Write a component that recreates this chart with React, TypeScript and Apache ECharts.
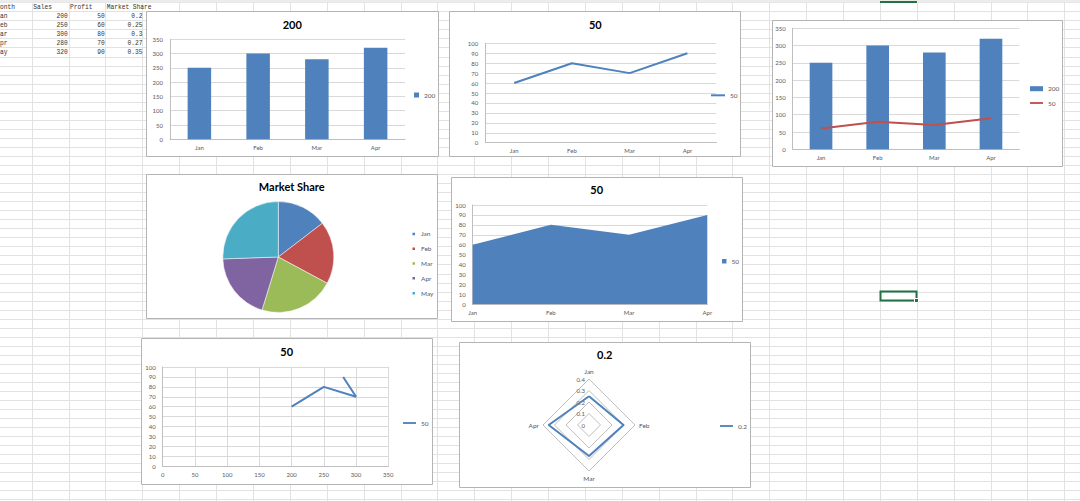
import React, { useEffect, useRef } from 'react';
import * as echarts from 'echarts';

// ---- sheet data ----
const headers = ['Month', 'Sales', 'Profit', 'Market Share'];
const months = ['Jan', 'Feb', 'Mar', 'Apr', 'May'];
const sales = [200, 250, 300, 280, 320];
const profit = [50, 60, 80, 70, 90];
const marketShare = [0.2, 0.25, 0.3, 0.27, 0.35];

// charts use the first data row as series name, the rest as values
const chartCats = months.slice(0, 4);
const barValues = sales.slice(1);
const lineValues = profit.slice(1);
const scatterX = sales.slice(0, 4);
const radarValues = marketShare.slice(1);
const radarOrder = [0, 3, 2, 1];

const salesAxis = { min: 0, max: 350, interval: 50 };
const profitAxis = { min: 0, max: 100, interval: 10 };
const shareAxisMax = 0.4;

const BLUE = '#4F81BD';
const RED = '#C0504D';
const pieColors = ['#4F81BD', '#C0504D', '#9BBB59', '#8064A2', '#4BACC6'];
const FONT = 'Lato, "Open Sans", sans-serif';
const MONO = '"Liberation Mono", "DejaVu Sans Mono", monospace';
const LINE_ICON = 'path://M0,0H14V2H0Z';

const tick = { fontSize: 6, color: '#595959', fontFamily: FONT };

function catAxis(gridIndex: number, extra: any = {}) {
  return {
    type: 'category', gridIndex, data: chartCats,
    axisLine: { show: true, lineStyle: { color: '#bfbfbf' } },
    axisTick: { show: false },
    axisLabel: { ...tick, margin: 5 },
    ...extra,
  };
}
function valAxis(gridIndex: number, r: any, extra: any = {}) {
  return {
    type: 'value', gridIndex, min: r.min, max: r.max, interval: r.interval,
    axisLine: { show: true, lineStyle: { color: '#bfbfbf' } },
    axisTick: { show: false },
    splitLine: { show: true, lineStyle: { color: '#d9d9d9' } },
    axisLabel: { ...tick, margin: 7 },
    ...extra,
  };
}

function title(text: string, cx: number, cy: number) {
  return {
    text, left: cx, top: cy - 6, textAlign: 'center', padding: 0,
    textStyle: { fontSize: 11, fontWeight: 'bold', color: '#000', fontFamily: FONT },
  };
}

const legendLabels: Record<string, string> = {
  s1: String(sales[0]), s2: String(profit[0]), s3: String(sales[0]), s4: String(profit[0]),
  s6: String(profit[0]), s7: String(profit[0]), s8: String(marketShare[0]),
};

function legend(data: any[], left: number, top: number, w: number, h: number, gap = 8) {
  return {
    data, left, top, orient: 'vertical', itemWidth: w, itemHeight: h, itemGap: gap,
    padding: 0, selectedMode: false,
    formatter: (n: string) => legendLabels[n] ?? n,
    textStyle: { fontSize: 6.5, color: '#595959', fontFamily: FONT },
  };
}

function box(x: number, y: number, w: number, h: number) {
  return {
    type: 'rect', z: -10, silent: true,
    shape: { x, y, width: w, height: h },
    style: { fill: '#fff', stroke: '#b4b4b4', lineWidth: 1 },
  };
}

function cellText(text: string, x: number, row: number, align: string) {
  return {
    type: 'text', x, y: 6.8 + 9.04 * row, scaleX: 0.78, z: -20, silent: true,
    style: {
      text, fill: '#333', font: `8px ${MONO}`,
      align, textAlign: align, verticalAlign: 'middle', textVerticalAlign: 'middle',
    },
  };
}

function buildGraphic() {
  const els: any[] = [];
  for (let k = 0; ; k++) {
    const x = Math.round(31.7 + 36.88 * k) + 0.5;
    if (x > 1080) break;
    els.push({ type: 'line', z: -30, silent: true, shape: { x1: x, y1: 0, x2: x, y2: 501 }, style: { stroke: '#e2e2e2', lineWidth: 1 } });
  }
  for (let k = 0; ; k++) {
    const y = Math.round(2.3 + 9.04 * k) + 0.5;
    if (y > 501) break;
    els.push({ type: 'line', z: -30, silent: true, shape: { x1: 0, y1: y, x2: 1080, y2: y }, style: { stroke: '#e2e2e2', lineWidth: 1 } });
  }
  els.push({ type: 'rect', z: -29, silent: true, shape: { x: 0, y: 0, width: 1080, height: 2.5 }, style: { fill: '#ececec' } });
  els.push({ type: 'rect', z: -28, silent: true, shape: { x: 880, y: 1, width: 37, height: 2 }, style: { fill: '#217346' } });
  // selected cell
  els.push({ type: 'rect', z: -25, silent: true, shape: { x: 880.5, y: 291.5, width: 36, height: 9 }, style: { fill: 'none', stroke: '#217346', lineWidth: 2 } });
  els.push({ type: 'rect', z: -24, silent: true, shape: { x: 914.5, y: 298.5, width: 4, height: 4 }, style: { fill: '#217346', stroke: '#fff', lineWidth: 1 } });

  // table text
  const cw = 3.75;
  els.push(cellText(headers[0], -cw, 0, 'left'));
  els.push(cellText(headers[1], 33.3, 0, 'left'));
  els.push(cellText(headers[2], 70, 0, 'left'));
  els.push(cellText(headers[3], 106.7, 0, 'left'));
  months.forEach((m, i) => {
    els.push(cellText(m, -cw, i + 1, 'left'));
    els.push(cellText(String(sales[i]), 67.8, i + 1, 'right'));
    els.push(cellText(String(profit[i]), 104.8, i + 1, 'right'));
    els.push(cellText(String(marketShare[i]), 142.5, i + 1, 'right'));
  });

  // chart boxes
  els.push(box(146.5, 11.5, 292, 145));
  els.push(box(449.5, 11.5, 291, 145));
  els.push(box(772.5, 20.5, 290, 146));
  els.push(box(146.5, 174.5, 291, 144));
  els.push(box(451.5, 177.5, 291, 144));
  els.push(box(141.5, 338.5, 291, 146));
  els.push(box(459.5, 342.5, 291, 145));
  return els;
}

function buildOption() {
  return {
    animation: false,
    backgroundColor: 'transparent',
    graphic: { elements: buildGraphic() },
    title: [
      title(String(sales[0]), 292.3, 24.7),
      title(String(profit[0]), 595.3, 25),
      title(headers[3], 291.7, 187),
      title(String(profit[0]), 596.7, 190),
      title(String(profit[0]), 286.7, 352),
      title(String(marketShare[0]), 604.7, 355),
    ],
    legend: [
      legend([{ name: 's1', icon: 'rect' }], 414, 91.5, 5, 5),
      legend([{ name: 's2', icon: LINE_ICON }], 711, 91.8, 14, 5),
      legend([{ name: 's3', icon: 'rect' }, { name: 's4', icon: LINE_ICON }], 1030, 85.2, 13, 5, 7.3),
      legend(months.map((m) => ({ name: m, icon: 'rect' })), 410.5, 230.45, 4.5, 4.5, 7.8),
      legend([{ name: 's6', icon: 'rect' }], 722, 257.75, 4.5, 4.5),
      legend([{ name: 's7', icon: LINE_ICON }], 403, 419.5, 13, 5),
      legend([{ name: 's8', icon: LINE_ICON }], 720, 422.5, 13, 5),
    ],
    grid: [
      { left: 170, top: 39.3, width: 235, height: 100 },
      { left: 485.3, top: 43.3, width: 231, height: 99.4 },
      { left: 792.7, top: 28.3, width: 226.6, height: 121 },
      { left: 472.7, top: 205, width: 234.6, height: 99.3 },
      { left: 162.7, top: 367, width: 225.6, height: 99.3 },
    ],
    xAxis: [
      catAxis(0),
      catAxis(1),
      catAxis(2),
      catAxis(3, { boundaryGap: false }),
      valAxis(4, salesAxis, { axisLabel: { ...tick, margin: 5 } }),
    ],
    yAxis: [
      valAxis(0, salesAxis),
      valAxis(1, profitAxis),
      valAxis(2, salesAxis),
      valAxis(3, profitAxis),
      valAxis(4, profitAxis),
    ],
    radar: {
      center: [589, 425], radius: 46, shape: 'polygon', splitNumber: 4, startAngle: 90,
      nameGap: 4,
      axisName: { color: '#595959', fontSize: 6.5, fontFamily: FONT },
      axisLine: { show: false },
      axisTick: { show: false },
      axisLabel: { show: false },
      splitArea: { show: false },
      splitLine: { lineStyle: { color: '#bfbfbf', width: 1 } },
      indicator: radarOrder.map((i, k) => ({
        name: chartCats[i], min: 0, max: shareAxisMax,
        ...(k === 0 ? { axisLabel: { show: true, ...tick, margin: 4 } } : {}),
      })),
    },
    series: [
      { name: 's1', type: 'bar', xAxisIndex: 0, yAxisIndex: 0, data: barValues, barWidth: '40%', itemStyle: { color: BLUE } },
      { name: 's2', type: 'line', xAxisIndex: 1, yAxisIndex: 1, data: lineValues, symbol: 'none', itemStyle: { color: BLUE }, lineStyle: { color: BLUE, width: 2 } },
      { name: 's3', type: 'bar', xAxisIndex: 2, yAxisIndex: 2, data: barValues, barWidth: '40%', itemStyle: { color: BLUE } },
      { name: 's4', type: 'line', xAxisIndex: 2, yAxisIndex: 2, data: lineValues, symbol: 'none', itemStyle: { color: RED }, lineStyle: { color: RED, width: 2 } },
      {
        name: 's5', type: 'pie', center: [278.3, 257], radius: 55.5, startAngle: 90, clockwise: true,
        label: { show: false }, labelLine: { show: false },
        data: months.map((m, i) => ({ name: m, value: marketShare[i], itemStyle: { color: pieColors[i], borderColor: '#fff', borderWidth: 0.5 } })),
      },
      { name: 's6', type: 'line', xAxisIndex: 3, yAxisIndex: 3, data: lineValues, symbol: 'none', itemStyle: { color: BLUE }, lineStyle: { color: BLUE, width: 0 }, areaStyle: { color: BLUE, opacity: 1 } },
      { name: 's7', type: 'line', xAxisIndex: 4, yAxisIndex: 4, data: scatterX.map((x, i) => [x, lineValues[i]]), symbol: 'none', itemStyle: { color: BLUE }, lineStyle: { color: BLUE, width: 2 } },
      {
        name: 's8', type: 'radar', radarIndex: 0, symbol: 'none',
        itemStyle: { color: BLUE }, lineStyle: { color: BLUE, width: 2 },
        data: [{ name: 's8', value: radarOrder.map((i) => radarValues[i]) }],
      },
    ],
  };
}

export default function App() {
  const ref = useRef<HTMLDivElement>(null);
  useEffect(() => {
    if (!ref.current) return;
    const chart = echarts.init(ref.current, undefined, { renderer: 'svg' });
    chart.setOption(buildOption() as any);
    return () => chart.dispose();
  }, []);
  return (
    <div
      ref={ref}
      style={{ position: 'absolute', left: 0, top: 0, width: 1080, height: 501, background: '#fff' }}
    />
  );
}
